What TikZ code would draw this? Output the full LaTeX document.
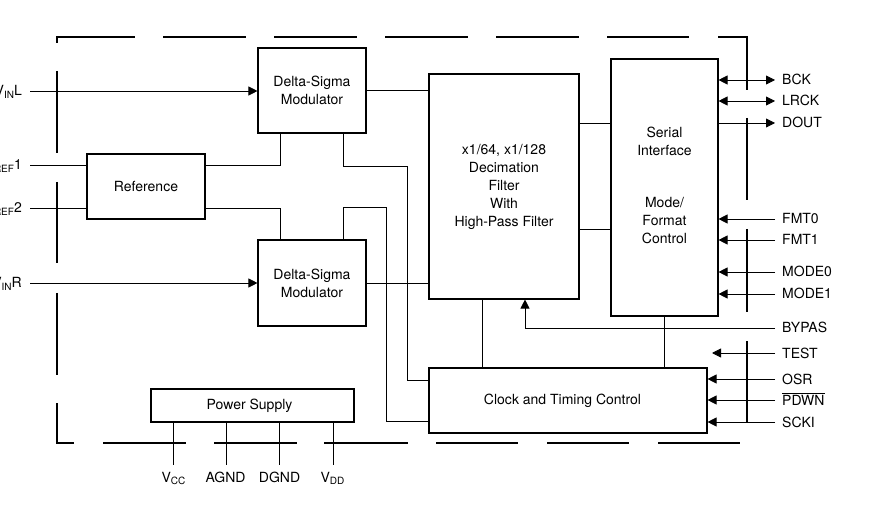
\documentclass[tikz,border=0pt]{standalone}
\usepackage{fontspec}
\setmainfont{TeX Gyre Heros}
\usetikzlibrary{arrows.meta}
\newcommand\sbs[1]{\raisebox{-2.5bp}{\fontsize{10bp}{10bp}\selectfont #1}}
\begin{document}
\begin{tikzpicture}[x=1bp,y=-1bp,
  font=\fontsize{14bp}{18bp}\selectfont,
  blk/.style={draw, line width=1.1bp, inner sep=0pt, align=center},
  wire/.style={line width=0.8bp},
  border/.style={line width=1.2bp},
  tip/.style={-{Triangle[length=9bp,width=9bp]}},
  tipboth/.style={{Triangle[length=9bp,width=9bp]}-{Triangle[length=9bp,width=9bp]}},
  lbl/.style={inner sep=0pt, align=center}]
\useasboundingbox (0,0) rectangle (882,507);
% dashed border
\draw[border] (57,43) -- (57,37) -- (135,37);
\foreach \a/\b in {163/246,274/357,385/468,496/579,607/689}
  \draw[border] (\a,37) -- (\b,37);
\draw[border] (718,37) -- (747,37) -- (747,90);
\foreach \a/\b in {118/200,229/312,341/422}
  \draw[border] (747,\a) -- (747,\b);
\foreach \a/\b in {71/153,182/263,293/375}
  \draw[border] (57,\a) -- (57,\b);
\draw[border] (57,403) -- (57,443) -- (74,443);
\foreach \a/\b in {103/186,214/297,324/408,436/518,547/629,658/740}
  \draw[border] (\a,443) -- (\b,443);
% blocks
\node[blk, minimum width=108bp, minimum height=85bp] (dsm1) at (312,90.5) {Delta-Sigma\\Modulator};
\node[blk, minimum width=108bp, minimum height=86bp] (dsm2) at (312,283) {Delta-Sigma\\Modulator};
\node[blk, minimum width=118bp, minimum height=65bp] (ref) at (146,186.5) {Reference};
\node[blk, minimum width=150bp, minimum height=225bp] (dec) at (504,186.5) {x1/64, x1/128\\Decimation\\Filter\\With\\High-Pass Filter};
\node[blk, minimum width=107bp, minimum height=257bp] (ser) at (664.5,187.5) {};
\node[lbl] (sertxt) at (664.5,141) {Serial\\Interface};
\node[lbl] (modetxt) at (664.5,221) {Mode/\\Format\\Control};
\node[blk, minimum width=278bp, minimum height=65bp] (clk) at (568,400.5) {Clock and Timing Control\hspace*{11bp}};
\node[blk, minimum width=203bp, minimum height=33bp] (ps) at (252.5,405.5) {Power Supply\hspace*{6bp}};
% left pins
\coordinate (vinl) at (30,91);
\coordinate (vref1) at (30,165);
\coordinate (vref2) at (30,208);
\coordinate (vinr) at (30,283);
\node[lbl, anchor=base east] (lvinl) at (22,96) {V\sbs{IN}L};
\node[lbl, anchor=base east] (lvref1) at (22,170) {V\sbs{REF}1};
\node[lbl, anchor=base east] (lvref2) at (22,213) {V\sbs{REF}2};
\node[lbl, anchor=base east] (lvinr) at (22,288) {V\sbs{IN}R};
\draw[wire,tip] (vinl) -- (dsm1.west |- vinl);
\draw[wire] (vref1) -- (ref.west |- vref1);
\draw[wire] (vref2) -- (ref.west |- vref2);
\draw[wire,tip] (vinr) -- (dsm2.west |- vinr);
% internal
\draw[wire] (ref.east |- vref1) -| ([xshift=-32bp]dsm1.south);
\draw[wire] (ref.east |- vref2) -| ([xshift=-32bp]dsm2.north);
\draw[wire] ([xshift=31bp]dsm1.south) -- ++(0,33) -| (407,380) -- (clk.west |- 0,380);
\draw[wire] ([xshift=31bp]dsm2.north) -- ++(0,-32) -| (386,421) -- (clk.west |- 0,421);
\draw[wire] (dsm1.east) -- (dec.west |- dsm1.east);
\draw[wire] (dsm2.east) -- (dec.west |- dsm2.east);
\draw[wire] (dec.east |- 0,123) -- (ser.west |- 0,123);
\draw[wire] (dec.east |- 0,229) -- (ser.west |- 0,229);
\draw[wire] (dec.south -| 482,0) -- (clk.north -| 482,0);
\draw[wire] (ser.south) -- (clk.north -| ser.south);
% right pins
\coordinate (bck) at (775,80);
\coordinate (lrck) at (775,101);
\coordinate (dout) at (775,123);
\coordinate (fmt0) at (775,219);
\coordinate (fmt1) at (775,240);
\coordinate (mode0) at (775,272);
\coordinate (mode1) at (775,294);
\coordinate (bypas) at (775,328);
\coordinate (test) at (775,353);
\coordinate (testend) at (712,353);
\coordinate (osr) at (775,379);
\coordinate (pdwn) at (775,400);
\coordinate (scki) at (775,422);
\draw[wire,tipboth] (ser.east |- bck) -- (bck);
\draw[wire,tipboth] (ser.east |- lrck) -- (lrck);
\draw[wire,tip] (ser.east |- dout) -- (dout);
\foreach \p in {fmt0,fmt1,mode0,mode1}
  \draw[wire,tip] (\p) -- (ser.east |- \p);
\draw[wire,tip] (bypas) -| (dec.south -| 525,0);
\draw[wire,tip] (test) -- (testend);
\foreach \p in {osr,pdwn,scki}
  \draw[wire,tip] (\p) -- (clk.east |- \p);
\node[lbl, anchor=base west] (lbck) at (782,85) {BCK};
\node[lbl, anchor=base west] (llrck) at (782,106) {LRCK};
\node[lbl, anchor=base west] (ldout) at (782,128) {DOUT};
\node[lbl, anchor=base west] (lfmt0) at (782,224) {FMT0};
\node[lbl, anchor=base west] (lfmt1) at (782,245) {FMT1};
\node[lbl, anchor=base west] (lmode0) at (782,277) {MODE0};
\node[lbl, anchor=base west] (lmode1) at (782,299) {MODE1};
\node[lbl, anchor=base west] (lbypas) at (782,333) {BYPAS};
\node[lbl, anchor=base west] (ltest) at (782,358) {TEST};
\node[lbl, anchor=base west] (losr) at (782,384) {OSR};
\node[lbl, anchor=base west] (lpdwn) at (782,405) {$\overline{\mbox{PDWN}}$};
\node[lbl, anchor=base west] (lscki) at (782,427) {SCKI};
% power pins
\coordinate (vcc) at (173,465);
\coordinate (agnd) at (226,465);
\coordinate (dgnd) at (279,465);
\coordinate (vdd) at (333,465);
\foreach \p in {vcc,agnd,dgnd,vdd}
  \draw[wire] (ps.south -| \p) -- (\p);
\node[lbl, anchor=base] (lvcc) at (173.5,482) {V\sbs{CC}};
\node[lbl, anchor=base] (lagnd) at (225.5,482) {AGND};
\node[lbl, anchor=base] (ldgnd) at (279.5,482) {DGND};
\node[lbl, anchor=base] (lvdd) at (332.5,482) {V\sbs{DD}};
\end{tikzpicture}
\end{document}
